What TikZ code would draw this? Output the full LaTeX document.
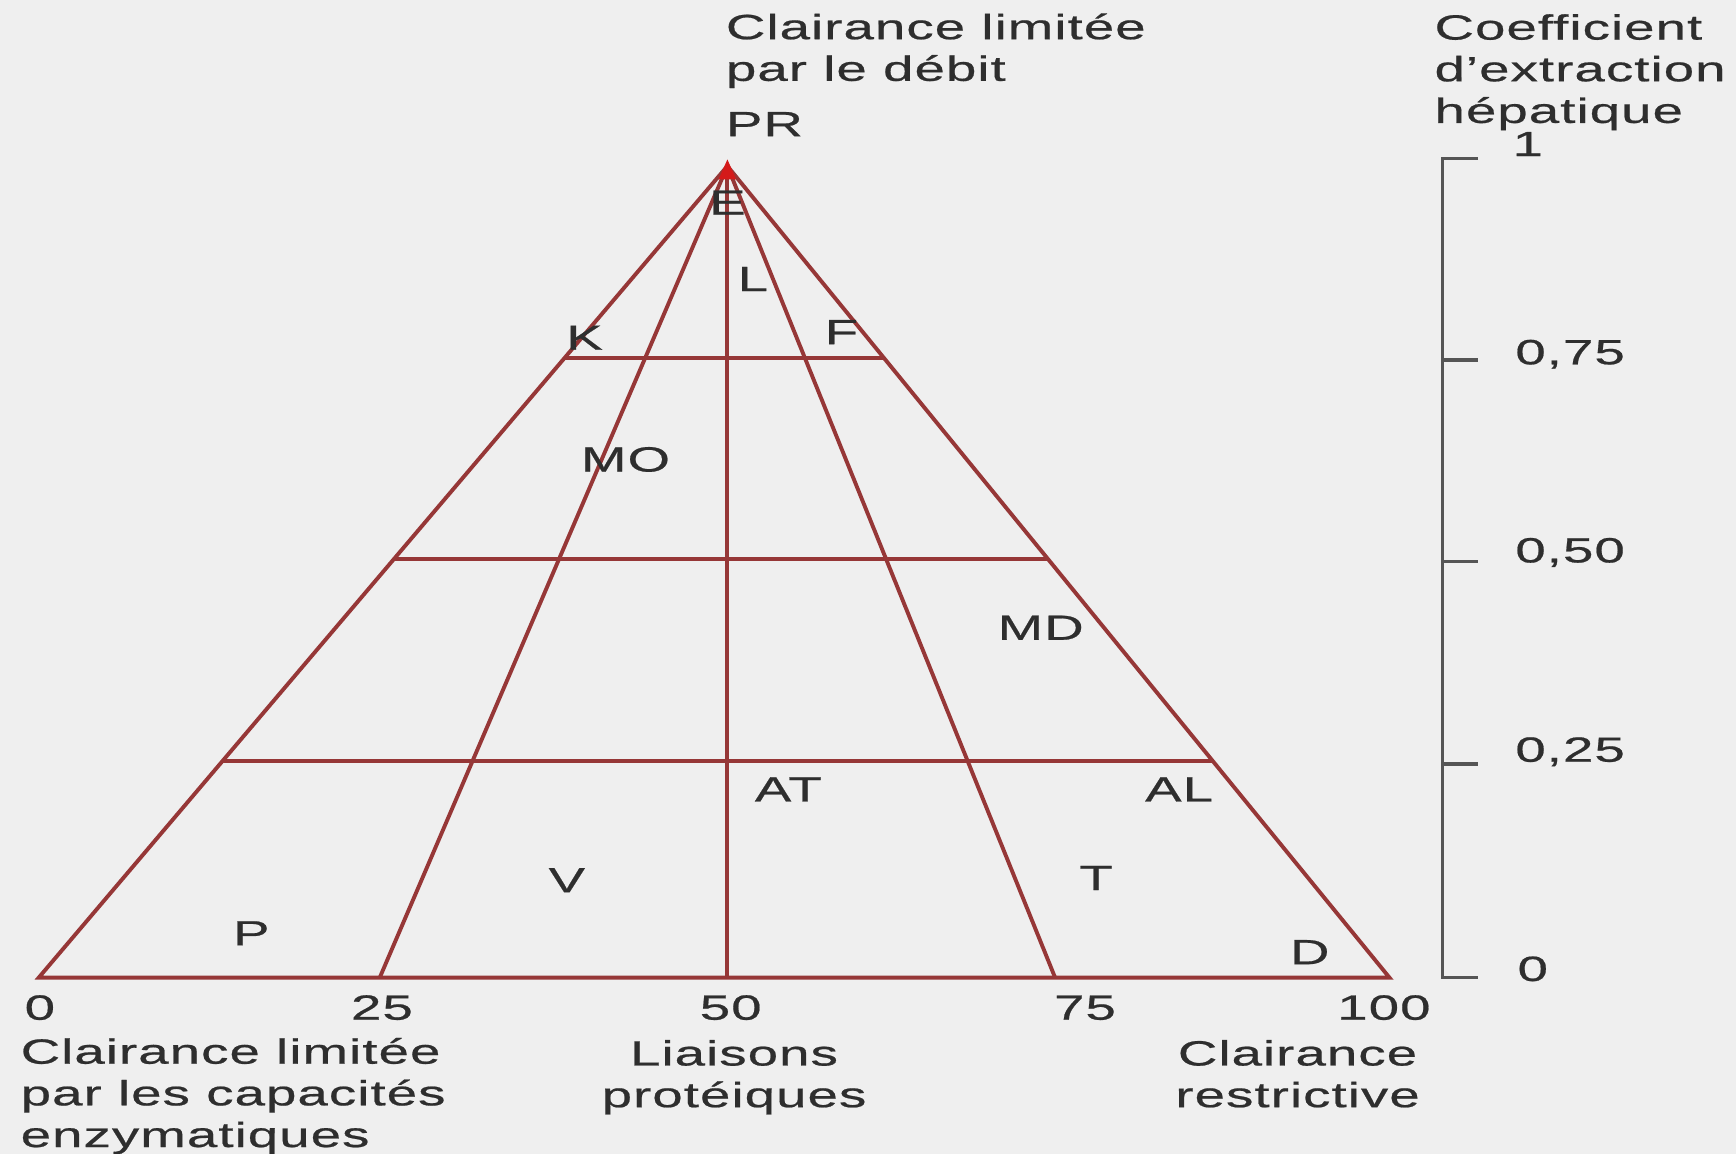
\documentclass[tikz,border=0pt]{standalone}
\usepackage{fontspec}
\setmainfont{Liberation Sans}[FakeStretch=1.56,LetterSpace=3,FakeBold=0.6]
\usepackage{tikz}
\usetikzlibrary{calc}
\definecolor{gridcol}{HTML}{963737}
\definecolor{apexcol}{HTML}{D41A1A}
\definecolor{txtcol}{HTML}{2E2E2E}
\definecolor{axcol}{HTML}{555555}
\definecolor{bgcol}{HTML}{EFEFEF}

\begin{document}
\begin{tikzpicture}[x=0.01cm,y=-0.01cm,
   font=\fontsize{9}{10.7}\selectfont,text=txtcol,
   drug/.style={inner sep=0pt},
   capl/.style={inner sep=0pt,align=left,anchor=base west},
   capc/.style={inner sep=0pt,align=center,anchor=base},
   numlbl/.style={inner sep=0pt,anchor=base},
   grd/.style={draw=gridcol,line width=1pt},
   ax/.style={draw=axcol,line width=0.9pt},
]
\useasboundingbox (0,0) rectangle (1568,1042);
\fill[bgcol] (0,0) rectangle (1568,1042);

% triangle corners and base marks
\coordinate (apex) at (657,150);
\coordinate (b0)   at (35,883);
\coordinate (b25)  at (343,883);
\coordinate (b50)  at (657,883);
\coordinate (b75)  at (953,883);
\coordinate (b100) at (1255,883);

\draw[grd] (b0) -- (apex) -- (b100) -- cycle;
\foreach \b in {b25,b50,b75}
  \draw[grd] (apex) -- (\b);
% levels 0.75, 0.50, 0.25
\foreach \t in {0.764,0.516,0.267}
  \draw[grd] ($(b0)!\t!(apex)$) -- ($(b100)!\t!(apex)$);
\fill[apexcol] ($(apex)+(-8,12)$) -- ($(apex)+(0,-6)$) -- ($(apex)+(8,12)$) -- cycle;

% extraction scale
\coordinate (s1) at (1303,143);
\coordinate (s0) at (1303,883);
\draw[ax] ($(s1)+(32,0)$) -- (s1) -- (s0) -- ($(s0)+(32,0)$);
\foreach \y in {325,507,690}
  \draw[ax] (1303,\y) -- (1335,\y);
\node[numlbl] (e1)  at (1380,141) {1};
\node[capl]   (e75) at (1368,329) {0,75};
\node[capl]   (e50) at (1368,508) {0,50};
\node[capl]   (e25) at (1368,688) {0,25};
\node[capl]   (e0)  at (1370,886) {0};

% captions (base = last line)
\node[capl] (debit) at (655,73) {Clairance limitée\\par le débit};
\node[capl] (pr) at (655,123) {PR};
\node[capl] (coef) at (1295,111) {Coefficient\\d'extraction\\hépatique};

\node[numlbl] (n0)   at (36,921)   {0};
\node[numlbl] (n25)  at (345,921)  {25};
\node[numlbl] (n50)  at (660,921)  {50};
\node[numlbl] (n75)  at (980,921)  {75};
\node[numlbl] (n100) at (1250,921) {100};

\node[capl] (enz)  at (18,1036)  {Clairance limitée\\par les capacités\\enzymatiques};
\node[capc] (liai) at (663,1000) {Liaisons\\protéiques};
\node[capc] (rest) at (1172,1000) {Clairance\\restrictive};

% drugs
\node[drug] (dE)  at (657,183)  {E};
\node[drug] (dL)  at (680,252)  {L};
\node[drug] (dK)  at (528,305)  {K};
\node[drug] (dF)  at (760,300)  {F};
\node[drug] (dMO) at (565,415)  {MO};
\node[drug] (dMD) at (940,567)  {MD};
\node[drug] (dAT) at (712,713)  {AT};
\node[drug] (dAL) at (1065,713) {AL};
\node[drug] (dV)  at (512,795)  {V};
\node[drug] (dT)  at (990,793)  {T};
\node[drug] (dP)  at (227,843)  {P};
\node[drug] (dD)  at (1183,860) {D};
\end{tikzpicture}
\end{document}
